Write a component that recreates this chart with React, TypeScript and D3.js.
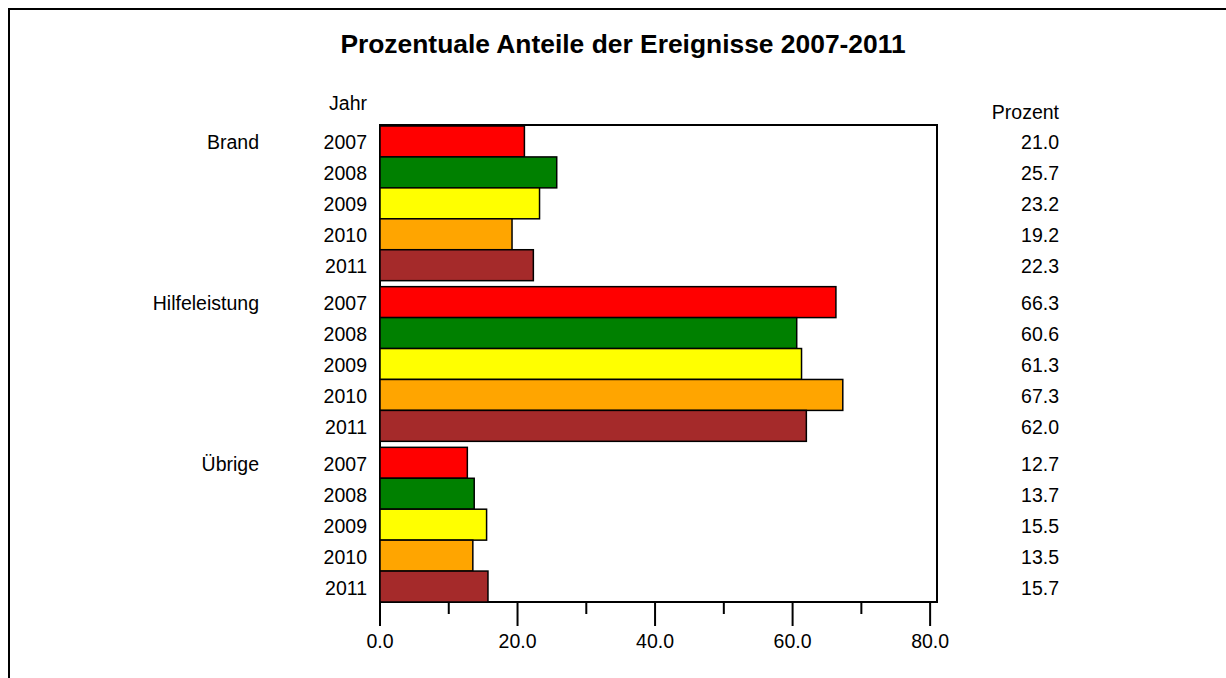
import React from 'react';
import * as d3 from 'd3';

// chart data
const groups = ['Brand', 'Hilfeleistung', 'Übrige'];
const years = ['2007', '2008', '2009', '2010', '2011'];
const brandValues = [21.0, 25.7, 23.2, 19.2, 22.3];
const hilfeValues = [66.3, 60.6, 61.3, 67.3, 62.0];
const uebrigeValues = [12.7, 13.7, 15.5, 13.5, 15.7];
const yearColors = ['#ff0000', '#008000', '#ffff00', '#ffa500', '#a52a2a'];
const xTicks = [0, 10, 20, 30, 40, 50, 60, 70, 80];

const seriesByGroup = [brandValues, hilfeValues, uebrigeValues];

const W = 1226;
const H = 678;
const plot = { left: 380, right: 937, top: 125, bottom: 602 };
const font = '"Liberation Sans", Arial, sans-serif';

const App = () => {
  const x = d3.scaleLinear().domain([0, 81]).range([plot.left, plot.right]);

  const yGroup = d3
    .scaleBand()
    .domain(groups)
    .range([plot.top + 1, plot.bottom + 6])
    .paddingInner(0);
  // gap of ~6px between groups
  const groupStep = yGroup.step();
  const yYear = d3
    .scaleBand()
    .domain(years)
    .range([0, groupStep - 6]);

  const rows = groups.flatMap((g, gi) =>
    years.map((yr, yi) => ({
      group: g,
      year: yr,
      value: seriesByGroup[gi][yi],
      color: yearColors[yi],
      y: (yGroup(g) as number) + (yYear(yr) as number),
      first: yi === 0,
    }))
  );
  const bh = yYear.bandwidth();

  return (
    <svg
      width={W}
      height={H}
      style={{ position: 'absolute', left: 0, top: 0, display: 'block', background: '#fff' }}
      fontFamily={font}
    >
      {/* outer frame, runs off the page */}
      <rect x={9} y={9} width={1400} height={900} fill="none" stroke="#000" strokeWidth={2} />

      <text x={623} y={53} textAnchor="middle" fontSize={26.4} fontWeight="bold">
        Prozentuale Anteile der Ereignisse 2007-2011
      </text>

      <text x={367} y={110} textAnchor="end" fontSize={19.5}>Jahr</text>
      <text x={1059} y={119} textAnchor="end" fontSize={19.5}>Prozent</text>

      {/* plot frame */}
      <rect
        x={plot.left}
        y={plot.top}
        width={plot.right - plot.left}
        height={plot.bottom - plot.top}
        fill="#fff"
        stroke="#000"
        strokeWidth={2}
      />

      {rows.map((r, i) => (
        <g key={i}>
          <rect
            x={x(0)}
            y={r.y}
            width={x(r.value) - x(0)}
            height={bh}
            fill={r.color}
            stroke="#000"
            strokeWidth={1.5}
          />
          <text x={367} y={r.y + bh / 2 + 8} textAnchor="end" fontSize={19.5}>
            {r.year}
          </text>
          <text x={1059} y={r.y + bh / 2 + 8} textAnchor="end" fontSize={19.5}>
            {r.value.toFixed(1)}
          </text>
          {r.first && (
            <text x={259} y={r.y + bh / 2 + 8} textAnchor="end" fontSize={19.5}>
              {r.group}
            </text>
          )}
        </g>
      ))}

      {/* x axis ticks */}
      {xTicks.map(t => {
        const major = t % 20 === 0;
        return (
          <g key={t}>
            <line
              x1={x(t)}
              x2={x(t)}
              y1={plot.bottom}
              y2={plot.bottom + (major ? 24 : 12)}
              stroke="#000"
              strokeWidth={2}
            />
            {major && (
              <text x={x(t)} y={648} textAnchor="middle" fontSize={19.5}>
                {t.toFixed(1)}
              </text>
            )}
          </g>
        );
      })}
    </svg>
  );
};

export default App;
